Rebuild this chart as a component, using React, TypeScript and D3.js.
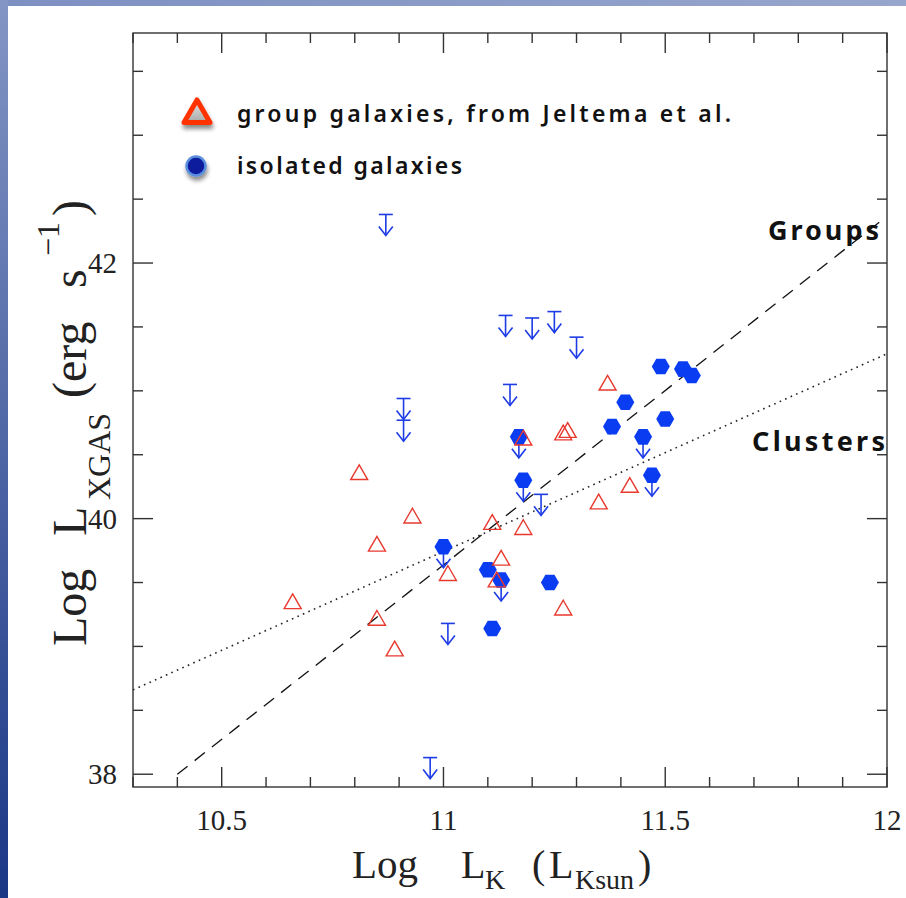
import React from 'react';
import * as d3 from 'd3';

const W = 906;
const H = 898;
const plot = { left: 133, top: 33, right: 887, bottom: 787 };

const xDomain = [10.3, 12.0];
const yDomain = [37.9, 43.8];
const xTickLabels = [10.5, 11, 11.5, 12];
const yTickLabels = [38, 40, 42];

// group galaxies, from Jeltema et al. (open triangles)
const groupX = [10.66, 10.81, 10.85, 10.85, 10.89, 10.93, 11.01, 11.11, 11.12, 11.13, 11.18, 11.18, 11.27, 11.28, 11.27, 11.35, 11.37, 11.42];
const groupY = [39.35, 40.36, 39.80, 39.22, 38.98, 40.02, 39.57, 39.97, 39.52, 39.69, 39.93, 40.63, 40.67, 40.69, 39.30, 40.13, 41.06, 40.26];

// isolated galaxies, detections (filled hexagons)
const isoX = [11.49, 11.54, 11.56, 11.41, 11.50, 11.38, 11.45, 11.17, 11.18, 11.47, 11.00, 11.10, 11.13, 11.24, 11.11];
const isoY = [41.19, 41.17, 41.12, 40.91, 40.78, 40.72, 40.64, 40.64, 40.30, 40.34, 39.78, 39.60, 39.52, 39.50, 39.14];

// isolated galaxies, upper limits (arrows)
const limX = [10.87, 10.91, 10.91, 11.14, 11.20, 11.25, 11.30, 11.15, 11.22, 11.01, 10.97, 11.17, 11.18, 11.00, 11.13, 11.45, 11.47];
const limY = [42.38, 40.94, 40.77, 41.59, 41.57, 41.62, 41.42, 41.05, 40.19, 39.18, 38.13, 40.64, 40.30, 39.78, 39.52, 40.64, 40.34];

// relations
const groupsFitX = [10.4, 11.99];
const groupsFitY = [38.0, 42.34];
const clustersFitX = [10.3, 12.0];
const clustersFitY = [38.66, 41.29];

const serif = '"Liberation Serif", "Times New Roman", serif';
const hand = '"Noto Sans", Lato, sans-serif';
const blue = '#0a3cf2';
const arrowBlue = '#1e3ce6';
const red = '#e8392e';

export default function App() {
  const x = d3.scaleLinear().domain(xDomain).range([plot.left, plot.right]);
  const y = d3.scaleLinear().domain(yDomain).range([plot.bottom, plot.top]);

  const xMinor = x.ticks(17);
  const yMinor = y.ticks(12);

  const hexPath = (r: number) =>
    d3.range(6).map(i => {
      const a = (Math.PI / 3) * i;
      return `${i ? 'L' : 'M'}${(r * Math.cos(a)).toFixed(2)},${(r * Math.sin(a)).toFixed(2)}`;
    }).join('') + 'Z';
  const triPath = (s: number) => {
    const h = (s * Math.sqrt(3)) / 2;
    return `M0,${(-2 * h / 3).toFixed(2)}L${s / 2},${(h / 3).toFixed(2)}L${-s / 2},${(h / 3).toFixed(2)}Z`;
  };

  const line = d3.line<[number, number]>().x(d => x(d[0])).y(d => y(d[1]));
  const groupsLine = line(groupsFitX.map((v, i) => [v, groupsFitY[i]]));
  const clustersLine = line(clustersFitX.map((v, i) => [v, clustersFitY[i]]));

  const isMajorX = (v: number) => xTickLabels.some(t => Math.abs(t - v) < 1e-6);
  const isMajorY = (v: number) => yTickLabels.some(t => Math.abs(t - v) < 1e-6);

  return (
    <svg width={W} height={H} style={{ position: 'absolute', left: 0, top: 0, background: '#fff' }}>
      <defs>
        <linearGradient id="leftBand" x1="0" y1="0" x2="0" y2="1">
          <stop offset="0" stopColor="#8395c4" />
          <stop offset="1" stopColor="#1a3786" />
        </linearGradient>
        <linearGradient id="topBand" x1="0" y1="0" x2="1" y2="0">
          <stop offset="0" stopColor="#7d90c2" />
          <stop offset="1" stopColor="#97a6cc" />
        </linearGradient>
        <linearGradient id="triFill" x1="0" y1="0" x2="0" y2="1">
          <stop offset="0" stopColor="#e6e6e6" />
          <stop offset="1" stopColor="#a8a8a8" />
        </linearGradient>
        <filter id="shadow" x="-50%" y="-50%" width="200%" height="200%">
          <feDropShadow dx="1" dy="4" stdDeviation="2" floodColor="#000" floodOpacity="0.45" />
        </filter>
      </defs>

      <rect x={0} y={0} width={W} height={6} fill="url(#topBand)" />
      <rect x={0} y={0} width={8} height={H} fill="url(#leftBand)" />

      {/* fit lines */}
      <path d={clustersLine || ''} fill="none" stroke="#222" strokeWidth={1.6} strokeDasharray="1.6 4.4" />
      <path d={groupsLine || ''} fill="none" stroke="#111" strokeWidth={1.3} strokeDasharray="13 9" />

      {/* upper limits */}
      {limX.map((v, i) => (
        <g key={'l' + i} transform={`translate(${x(v)},${y(limY[i])})`} stroke={arrowBlue} strokeWidth={1.6} fill="none">
          <line x1={-7} x2={7} y1={0} y2={0} />
          <line x1={0} x2={0} y1={0} y2={21} />
          <path d="M-7,12L0,21L7,12" />
        </g>
      ))}

      {/* isolated detections */}
      {isoX.map((v, i) => (
        <path key={'h' + i} d={hexPath(9)} transform={`translate(${x(v)},${y(isoY[i])})`} fill={blue} />
      ))}

      {/* group galaxies */}
      {groupX.map((v, i) => (
        <path key={'t' + i} d={triPath(17)} transform={`translate(${x(v)},${y(groupY[i]) + 2})`} fill="none" stroke={red} strokeWidth={1.4} />
      ))}

      {/* frame and ticks */}
      <g stroke="#333" strokeWidth={1.4}>
        {xMinor.map(v => {
          const len = isMajorX(v) ? 20 : 10;
          return (
            <g key={'xt' + v}>
              <line x1={x(v)} x2={x(v)} y1={plot.bottom} y2={plot.bottom - len} />
              <line x1={x(v)} x2={x(v)} y1={plot.top} y2={plot.top + len} />
            </g>
          );
        })}
        {yMinor.map(v => {
          const len = isMajorY(v) ? 20 : 10;
          return (
            <g key={'yt' + v}>
              <line x1={plot.left} x2={plot.left + len} y1={y(v)} y2={y(v)} />
              <line x1={plot.right} x2={plot.right - len} y1={y(v)} y2={y(v)} />
            </g>
          );
        })}
        <rect x={plot.left} y={plot.top} width={plot.right - plot.left} height={plot.bottom - plot.top} fill="none" />
      </g>

      {/* tick labels */}
      {xTickLabels.map(v => (
        <text key={'xl' + v} x={x(v)} y={830} textAnchor="middle" fontFamily={serif} fontSize={29} fill="#222">{v}</text>
      ))}
      {yTickLabels.map(v => (
        <text key={'yl' + v} x={117} y={y(v) + 10} textAnchor="end" fontFamily={serif} fontSize={29} fill="#222">{v}</text>
      ))}

      {/* axis titles */}
      <g fontFamily={serif} fill="#222">
        <text x={352} y={878} fontSize={41}>Log</text>
        <text x={461} y={878} fontSize={40}>L</text>
        <text x={485} y={889} fontSize={28}>K</text>
        <text x={532} y={878} fontSize={40}>(</text>
        <text x={549} y={878} fontSize={40}>L</text>
        <text x={575} y={889} fontSize={28}>Ksun</text>
        <text x={638} y={878} fontSize={40}>)</text>
      </g>
      <g fontFamily={serif} fill="#222" transform="translate(86,646) rotate(-90)">
        <text x={0} y={0} fontSize={48}>Log</text>
        <text x={110} y={0} fontSize={48}>L</text>
        <text x={146} y={24} fontSize={32}>XGAS</text>
        <text x={248} y={0} fontSize={48}>(erg</text>
        <text x={358} y={0} fontSize={48}>s</text>
        <text x={390} y={-27} fontSize={32}>−1</text>
        <text x={430} y={0} fontSize={48}>)</text>
      </g>

      {/* legend */}
      <path d={triPath(26)} transform="translate(197,115)" fill="url(#triFill)" stroke="#ff3300" strokeWidth={5} strokeLinejoin="round" filter="url(#shadow)" />
      <circle cx={196} cy={166} r={9.5} fill="#0b1c9c" stroke="#5b8ee0" strokeWidth={2.5} filter="url(#shadow)" />
      <text x={237} y={122} fontFamily={hand} fontWeight={600} fontSize={23} textLength={494} lengthAdjust="spacing" fill="#111">group galaxies, from Jeltema et al.</text>
      <text x={237} y={174} fontFamily={hand} fontWeight={600} fontSize={23} textLength={225} lengthAdjust="spacing" fill="#111">isolated galaxies</text>

      {/* relation labels */}
      <text x={768} y={240} fontFamily={hand} fontWeight={700} fontSize={27} textLength={111} lengthAdjust="spacing" fill="#111">Groups</text>
      <text x={752} y={451} fontFamily={hand} fontWeight={700} fontSize={27} textLength={133} lengthAdjust="spacing" fill="#111">Clusters</text>
    </svg>
  );
}
